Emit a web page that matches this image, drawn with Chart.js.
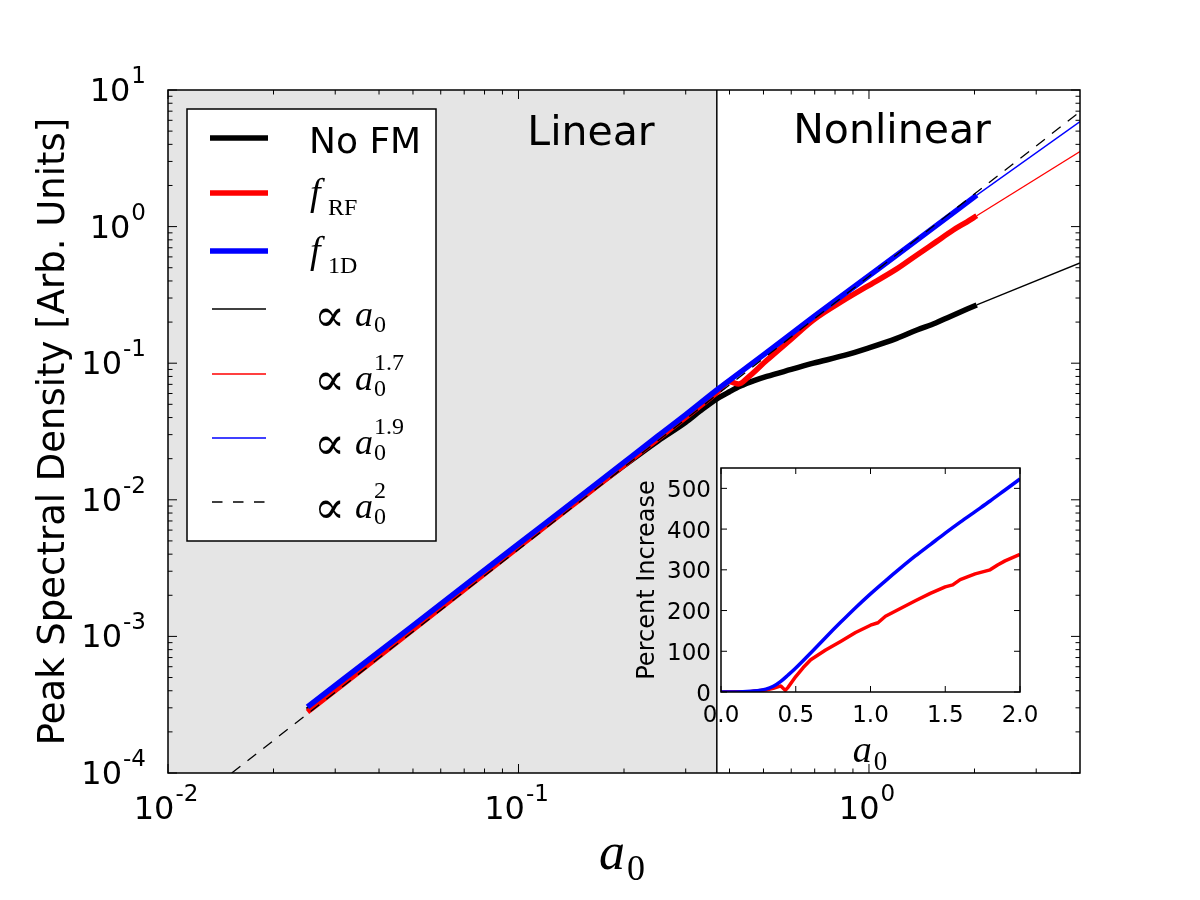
<!DOCTYPE html>
<html>
<head>
<meta charset="utf-8">
<script src="https://cdn.jsdelivr.net/npm/chart.js@4.4.1/dist/chart.umd.min.js"></script>
<style>
  body { margin: 0; background: #fff; }
  #wrap { position: relative; width: 1200px; height: 900px; }
  #main { position: absolute; left: 0; top: 0; }
  #inset { position: absolute; left: 600px; top: 440px; }
</style>
</head>
<body>
<div id="wrap">
  <canvas id="main" width="1200" height="900"></canvas>
  <canvas id="inset" width="480" height="360"></canvas>
</div>
<script>
// ---- main panel data (a0 vs peak spectral density) ----
const aNoFM = [0.025, 0.05, 0.1, 0.15, 0.2, 0.25, 0.3, 0.33, 0.368, 0.4, 0.43, 0.47, 0.511, 0.6, 0.694, 0.85, 0.985, 1.2, 1.37, 1.55, 1.7, 2.03];
const pNoFM = [2.9e-4, 1.16e-3, 4.6e-3, 0.0103, 0.0178, 0.027, 0.037, 0.0448, 0.0548, 0.0618, 0.068, 0.0745, 0.080, 0.09, 0.1, 0.114, 0.128, 0.152, 0.175, 0.197, 0.219, 0.267];

const aFRF = [0.025, 0.05, 0.1, 0.15, 0.2, 0.25, 0.3, 0.368, 0.4, 0.425, 0.45, 0.511, 0.6, 0.694, 0.85, 0.985, 1.2, 1.37, 1.55, 1.74, 1.9, 2.03];
const pFRF = [2.8e-4, 1.12e-3, 4.5e-3, 0.0101, 0.0179, 0.028, 0.0402, 0.061, 0.073, 0.0705, 0.078, 0.105, 0.15, 0.207, 0.29, 0.363, 0.49, 0.62, 0.77, 0.944, 1.08, 1.2];

const aF1D = [0.025, 0.05, 0.1, 0.15, 0.2, 0.25, 0.3, 0.368, 0.5, 0.7, 1.0, 1.4, 2.03];
const pF1D = [3.05e-4, 1.2e-3, 4.75e-3, 0.0106, 0.0188, 0.0293, 0.042, 0.0637, 0.115, 0.222, 0.437, 0.83, 1.70];

// power-law guide lines (end points)
const aPow1 = [2.03, 4];    const pPow1 = [0.267, 0.542];
const aPow17 = [2.03, 4];   const pPow17 = [1.2, 3.54];
const aPow19 = [2.03, 4];   const pPow19 = [1.70, 5.87];
const aPow2 = [0.0152, 4];  const pPow2 = [1e-4, 6.93];

const linearEdge = 0.368;   // boundary of shaded "Linear" region

const xMajor = [0.01, 0.1, 1];
const xExp = ['-2', '-1', '0'];
const yMajor = [1e-4, 1e-3, 1e-2, 1e-1, 1, 10];
const yExp = ['-4', '-3', '-2', '-1', '0', '1'];

// ---- inset data (percent increase vs a0) ----
const aIn1D = [0, 0.1, 0.2, 0.3, 0.35, 0.4, 0.45, 0.5, 0.6, 0.7, 0.8, 0.9, 1.0, 1.1, 1.2, 1.3, 1.4, 1.5, 1.6, 1.7, 1.8, 1.9, 2.0];
const pctIn1D = [0, 0, 2, 7, 14, 26, 42, 59, 96, 134, 171, 207, 241, 273, 304, 334, 362, 390, 417, 443, 469, 496, 523];

const aInRF = [0, 0.2, 0.3, 0.35, 0.4, 0.43, 0.45, 0.5, 0.55, 0.6, 0.7, 0.8, 0.9, 1.0, 1.05, 1.1, 1.2, 1.3, 1.4, 1.5, 1.55, 1.6, 1.7, 1.8, 1.85, 1.9, 2.0];
const pctInRF = [0, 1, 5, 9, 15, 4, 12, 38, 60, 79, 103, 124, 146, 164, 170, 186, 205, 224, 242, 258, 263, 276, 290, 300, 312, 322, 338];

const inXTicks = [0, 0.5, 1, 1.5, 2];
const inXLabels = ['0.0', '0.5', '1.0', '1.5', '2.0'];
const inYTicks = [0, 100, 200, 300, 400, 500];

const SANS = '"DejaVu Sans", sans-serif';
const SERIF = '"Liberation Serif", "DejaVu Serif", serif';

const toXY = (xs, ys) => xs.map((x, i) => ({ x: x, y: ys[i] }));

function series(xs, ys, color, width, order, dash, smooth) {
  return {
    data: toXY(xs, ys),
    borderColor: color,
    borderWidth: width,
    borderDash: dash || [],
    pointRadius: 0,
    fill: false,
    tension: 0,
    cubicInterpolationMode: smooth ? 'monotone' : 'default',
    order: order,
    borderCapStyle: 'butt',
    borderJoinStyle: 'round'
  };
}

function minorTicks(majors, lo, hi) {
  const out = [];
  majors.forEach(d => {
    for (let m = 2; m <= 9; m++) {
      const v = d * m;
      if (v > lo && v < hi) out.push(v);
    }
  });
  return out;
}

function powLabel(ctx, exp, x, base, align) {
  ctx.font = `32px ${SANS}`;
  const w1 = ctx.measureText('10').width;
  ctx.font = `23px ${SANS}`;
  const w2 = ctx.measureText(exp).width;
  const x0 = align === 'center' ? x - (w1 + w2 + 1) / 2 : x - (w1 + w2 + 1);
  ctx.textAlign = 'left';
  ctx.font = `32px ${SANS}`;
  ctx.fillText('10', x0, base);
  ctx.font = `23px ${SANS}`;
  ctx.fillText(exp, x0 + w1 + 1, base - 18);
}

function propLabel(ctx, x, base, sup) {
  ctx.textAlign = 'left';
  ctx.font = `46px "DejaVu Serif", serif`;
  ctx.fillText('\u221D', x - 1, base + 5);
  const xa = x + 40;
  ctx.font = `italic 36px ${SERIF}`;
  ctx.fillText('a', xa, base);
  const xs = xa + ctx.measureText('a').width + 1;
  ctx.font = `24px ${SERIF}`;
  ctx.fillText('0', xs, base + 6);
  if (sup) ctx.fillText(sup, xs, base - 20);
}

function fLabel(ctx, x, base, sub) {
  ctx.textAlign = 'left';
  ctx.font = `italic 38px ${SERIF}`;
  ctx.fillText('f', x, base);
  ctx.font = `24px ${SERIF}`;
  ctx.fillText(sub, x + 18, base + 10);
}

function a0Label(ctx, cx, base, size) {
  ctx.textAlign = 'left';
  ctx.font = `italic ${size}px ${SERIF}`;
  const wa = ctx.measureText('a').width;
  ctx.font = `${Math.round(size * 0.7)}px ${SERIF}`;
  const w0 = ctx.measureText('0').width;
  const x0 = cx - (wa + w0 + 2) / 2;
  ctx.font = `italic ${size}px ${SERIF}`;
  ctx.fillText('a', x0, base);
  ctx.font = `${Math.round(size * 0.7)}px ${SERIF}`;
  ctx.fillText('0', x0 + wa + 2, base + size * 0.22);
}

const mainDeco = {
  id: 'mainDeco',
  beforeDatasetsDraw(chart) {
    const { ctx, chartArea: ca, scales: { x } } = chart;
    const xb = x.getPixelForValue(linearEdge);
    ctx.save();
    ctx.fillStyle = '#fff';
    ctx.fillRect(ca.left, ca.top, ca.right - ca.left, ca.bottom - ca.top);
    ctx.fillStyle = '#e5e5e5';
    ctx.fillRect(ca.left, ca.top, xb - ca.left, ca.bottom - ca.top);
    ctx.strokeStyle = '#000';
    ctx.lineWidth = 1.5;
    ctx.beginPath();
    ctx.moveTo(xb, ca.top);
    ctx.lineTo(xb, ca.bottom);
    ctx.stroke();
    ctx.restore();
  },
  afterDatasetsDraw(chart) {
    const { ctx, chartArea: ca, scales: { x, y } } = chart;
    ctx.save();
    ctx.strokeStyle = '#000';
    ctx.fillStyle = '#000';

    // frame
    ctx.lineWidth = 1.5;
    ctx.strokeRect(ca.left, ca.top, ca.right - ca.left, ca.bottom - ca.top);

    // inward ticks on all four sides
    ctx.lineWidth = 1;
    const tick = (x1, y1, x2, y2) => { ctx.beginPath(); ctx.moveTo(x1, y1); ctx.lineTo(x2, y2); ctx.stroke(); };
    const xMinor = minorTicks(xMajor, 0.01, 4);
    const yMinor = minorTicks(yMajor, 1e-4, 10);
    xMajor.forEach(v => { const p = x.getPixelForValue(v); tick(p, ca.bottom, p, ca.bottom - 9); tick(p, ca.top, p, ca.top + 9); });
    xMinor.forEach(v => { const p = x.getPixelForValue(v); tick(p, ca.bottom, p, ca.bottom - 4.5); tick(p, ca.top, p, ca.top + 4.5); });
    yMajor.forEach(v => { const p = y.getPixelForValue(v); tick(ca.left, p, ca.left + 9, p); tick(ca.right, p, ca.right - 9, p); });
    yMinor.forEach(v => { const p = y.getPixelForValue(v); tick(ca.left, p, ca.left + 4.5, p); tick(ca.right, p, ca.right - 4.5, p); });

    // tick labels
    xMajor.forEach((v, i) => powLabel(ctx, xExp[i], x.getPixelForValue(v) - 2, ca.bottom + 46, 'center'));
    yMajor.forEach((v, i) => powLabel(ctx, yExp[i], 146, y.getPixelForValue(v) + 11, 'right'));

    // axis titles
    a0Label(ctx, 622, 869, 52);
    ctx.save();
    ctx.translate(64, (ca.top + ca.bottom) / 2);
    ctx.rotate(-Math.PI / 2);
    ctx.textAlign = 'center';
    ctx.font = `37px ${SANS}`;
    ctx.fillText('Peak Spectral Density [Arb. Units]', 0, 0);
    ctx.restore();

    // region labels
    ctx.textAlign = 'center';
    ctx.font = `41px ${SANS}`;
    ctx.fillText('Linear', 591, 145);
    ctx.fillText('Nonlinear', 892, 143);

    // legend
    const lx = 187, ly = 109, lw = 249, lh = 432;
    ctx.fillStyle = '#fff';
    ctx.fillRect(lx, ly, lw, lh);
    ctx.lineWidth = 1.5;
    ctx.strokeStyle = '#000';
    ctx.strokeRect(lx, ly, lw, lh);
    const rows = [
      { y: 138, color: '#000', w: 5.5, dash: [] },
      { y: 193, color: '#ff0000', w: 5.5, dash: [] },
      { y: 251, color: '#0000ff', w: 5.5, dash: [] },
      { y: 309, color: '#000', w: 1.3, dash: [] },
      { y: 374, color: '#ff0000', w: 1.3, dash: [] },
      { y: 438, color: '#0000ff', w: 1.3, dash: [] },
      { y: 502, color: '#000', w: 1.3, dash: [10.5, 10.5] }
    ];
    rows.forEach(r => {
      ctx.strokeStyle = r.color;
      ctx.lineWidth = r.w;
      ctx.setLineDash(r.dash);
      ctx.lineCap = 'butt';
      ctx.beginPath();
      ctx.moveTo(r.w > 2 ? 210 : 212, r.y);
      ctx.lineTo(r.w > 2 ? 268 : 266, r.y);
      ctx.stroke();
    });
    ctx.setLineDash([]);
    ctx.fillStyle = '#000';
    ctx.textAlign = 'left';
    ctx.font = `36px ${SANS}`;
    ctx.fillText('No FM', 309, 153);
    fLabel(ctx, 310, 205, 'RF');
    fLabel(ctx, 310, 263, '1D');
    propLabel(ctx, 315, 326, null);
    propLabel(ctx, 315, 390, '1.7');
    propLabel(ctx, 315, 454, '1.9');
    propLabel(ctx, 315, 518, '2');
    ctx.restore();
  }
};

new Chart(document.getElementById('main'), {
  type: 'line',
  data: {
    datasets: [
      series(aPow2, pPow2, '#000', 1.3, 0, [11, 9]),
      series(aPow19, pPow19, '#0000ff', 1.3, 1),
      series(aPow17, pPow17, '#ff0000', 1.3, 2),
      series(aPow1, pPow1, '#000', 1.3, 3),
      series(aF1D, pF1D, '#0000ff', 5.5, 4, null, true),
      series(aFRF, pFRF, '#ff0000', 5.5, 5, null, true),
      series(aNoFM, pNoFM, '#000', 5.5, 6, null, true)
    ]
  },
  options: {
    responsive: false,
    animation: false,
    layout: { padding: { left: 168, top: 90, right: 120, bottom: 127 } },
    plugins: { legend: { display: false }, tooltip: { enabled: false } },
    scales: {
      x: { type: 'logarithmic', min: 0.01, max: 4, display: false },
      y: { type: 'logarithmic', min: 1e-4, max: 10, display: false }
    }
  },
  plugins: [mainDeco]
});

// ---- inset ----
const insetDeco = {
  id: 'insetDeco',
  beforeDatasetsDraw(chart) {
    const { ctx, chartArea: ca } = chart;
    ctx.save();
    ctx.fillStyle = '#fff';
    ctx.fillRect(ca.left, ca.top, ca.right - ca.left, ca.bottom - ca.top);
    ctx.restore();
  },
  afterDatasetsDraw(chart) {
    const { ctx, chartArea: ca, scales: { x, y } } = chart;
    ctx.save();
    ctx.strokeStyle = '#000';
    ctx.fillStyle = '#000';
    ctx.lineWidth = 1.5;
    ctx.strokeRect(ca.left, ca.top, ca.right - ca.left, ca.bottom - ca.top);
    ctx.lineWidth = 1;
    const tick = (x1, y1, x2, y2) => { ctx.beginPath(); ctx.moveTo(x1, y1); ctx.lineTo(x2, y2); ctx.stroke(); };
    inXTicks.forEach(v => { const p = x.getPixelForValue(v); tick(p, ca.bottom, p, ca.bottom - 6); tick(p, ca.top, p, ca.top + 6); });
    inYTicks.forEach(v => { const p = y.getPixelForValue(v); tick(ca.left, p, ca.left + 6, p); tick(ca.right, p, ca.right - 6, p); });

    ctx.font = `23px ${SANS}`;
    ctx.textAlign = 'center';
    inXTicks.forEach((v, i) => ctx.fillText(inXLabels[i], x.getPixelForValue(v), ca.bottom + 30));
    ctx.textAlign = 'right';
    inYTicks.forEach(v => ctx.fillText(String(v), ca.left - 10, y.getPixelForValue(v) + 8.5));

    a0Label(ctx, 270, 322, 38);
    ctx.save();
    ctx.translate(54, (ca.top + ca.bottom) / 2);
    ctx.rotate(-Math.PI / 2);
    ctx.textAlign = 'center';
    ctx.font = `24px ${SANS}`;
    ctx.fillText('Percent Increase', 0, 0);
    ctx.restore();
    ctx.restore();
  }
};

new Chart(document.getElementById('inset'), {
  type: 'line',
  data: {
    datasets: [
      series(aIn1D, pctIn1D, '#0000ff', 3.5, 0, null, true),
      series(aInRF, pctInRF, '#ff0000', 3.5, 1)
    ]
  },
  options: {
    responsive: false,
    animation: false,
    layout: { padding: { left: 121, top: 28, right: 60, bottom: 108 } },
    plugins: { legend: { display: false }, tooltip: { enabled: false } },
    scales: {
      x: { type: 'linear', min: 0, max: 2, display: false },
      y: { type: 'linear', min: 0, max: 550, display: false }
    }
  },
  plugins: [insetDeco]
});
</script>
</body>
</html>
